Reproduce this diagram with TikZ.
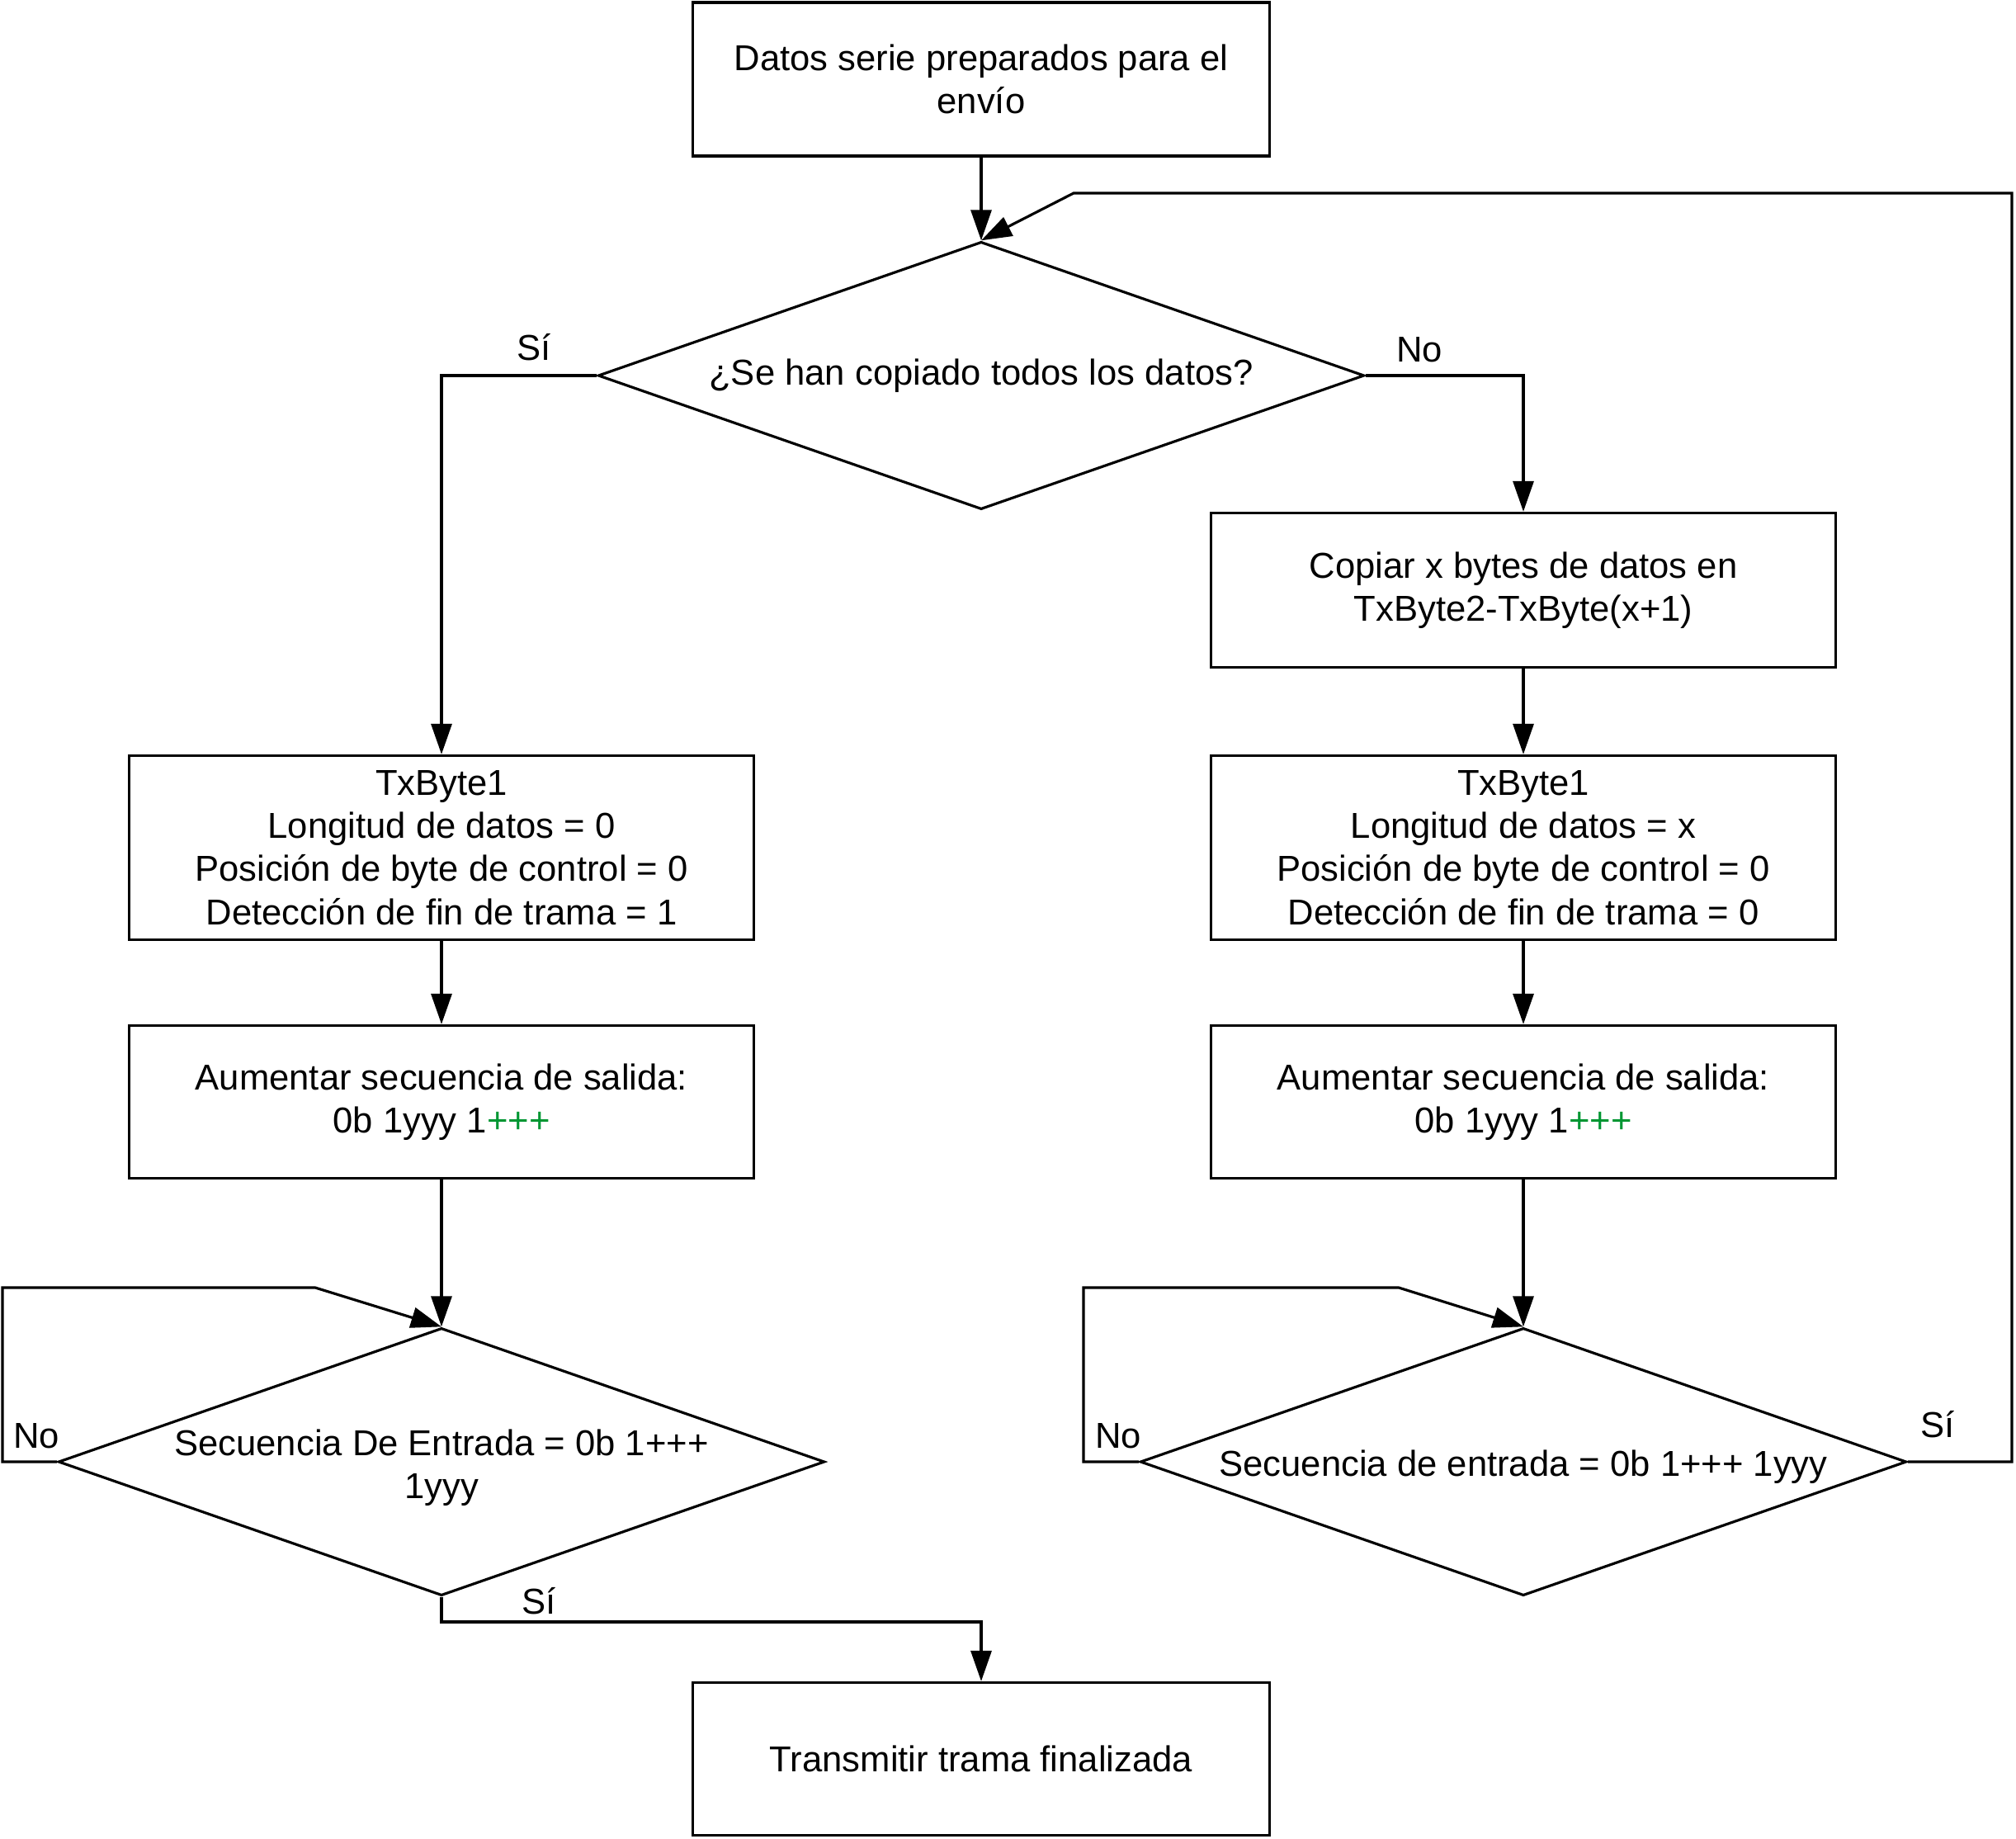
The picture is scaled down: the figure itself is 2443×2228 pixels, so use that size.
\documentclass[tikz,border=0pt]{standalone}
\usepackage{fontspec}
\setmainfont{Liberation Sans}
\usetikzlibrary{shapes.geometric,arrows.meta}
\definecolor{plusgreen}{RGB}{0,150,50}
\begin{document}
\begin{tikzpicture}[x=0.01cm,y=-0.01cm,line width=0.9pt,
  txt/.style={font=\fontsize{12.4}{14.9}\selectfont,align=center,inner sep=0pt},
  box/.style={txt,draw,minimum width=7.57cm},
  dia/.style={draw,diamond,inner sep=0pt,minimum width=9.28cm,minimum height=3.24cm},
  arr/.style={-{Triangle[length=3.7mm,width=2.5mm]}},
  lbl/.style={txt}]
\useasboundingbox (0,0) rectangle (2443,2228);

% nodes
\node[box,minimum width=6.98cm,minimum height=1.86cm] (start) at (1189,96) {Datos serie preparados para el\\envío};
\node[dia] (d1) at (1189,455) {};
\node[txt] (d1t) at (1189,455) {¿Se han copiado todos los datos?};
\node[box,minimum height=1.87cm] (r1) at (1846,715) {Copiar x bytes de datos en\\TxByte2-TxByte(x+1)};
\node[box,minimum height=2.23cm] (l2) at (535,1027) {TxByte1\\Longitud de datos = 0\\Posición de byte de control = 0\\Detección de fin de trama = 1};
\node[box,minimum height=2.23cm] (r2) at (1846,1027) {TxByte1\\Longitud de datos = x\\Posición de byte de control = 0\\Detección de fin de trama = 0};
\node[box,minimum height=1.85cm] (l3) at (535,1335) {Aumentar secuencia de salida:\\0b 1yyy 1\textcolor{plusgreen}{+++}};
\node[box,minimum height=1.85cm] (r3) at (1846,1335) {Aumentar secuencia de salida:\\0b 1yyy 1\textcolor{plusgreen}{+++}};
\node[dia] (ld) at (535,1771) {};
\node[txt] (ldt) at (535,1778) {Secuencia De Entrada = 0b 1+++\\1yyy};
\node[dia] (rd) at (1846,1771) {};
\node[txt] (rdt) at (1846,1777) {Secuencia de entrada = 0b 1+++ 1yyy};
\node[box,minimum width=6.98cm,minimum height=1.85cm] (fin) at (1189,2131) {Transmitir trama finalizada};

% helper coordinates
\coordinate (lA) at (3,1560);
\coordinate (lB) at (382,1560);
\coordinate (rA) at (1313,1560);
\coordinate (rB) at (1695,1560);
\coordinate (rC) at (2438,234);
\coordinate (rD) at (1301,234);
\coordinate (bS) at (535,1965);

% connectors
\draw[arr] (start.south) -- (d1.north);
\draw[arr] (d1.west) -| (l2.north);
\draw[arr] (d1.east) -| (r1.north);
\draw[arr] (r1.south) -- (r2.north);
\draw[arr] (l2.south) -- (l3.north);
\draw[arr] (r2.south) -- (r3.north);
\draw[arr] (l3.south) -- (ld.north);
\draw[arr] (r3.south) -- (rd.north);
\draw[arr] (ld.west) -| (lA) -- (lB) -- (ld.north);
\draw[arr] (rd.west) -| (rA) -- (rB) -- (rd.north);
\draw[arr] (rd.east) -| (rC) -- (rD) -- (d1.north);
\draw[arr] (ld.south) -- (bS) -| (fin.north);

% labels
\node[lbl] (lsi1) at (647,421) {Sí};
\node[lbl] (lno1) at (1720,424) {No};
\node[lbl] (lno2) at (44,1740) {No};
\node[lbl] (lno3) at (1355,1740) {No};
\node[lbl] (lsi2) at (2348,1726) {Sí};
\node[lbl] (lsi3) at (653,1940) {Sí};
\end{tikzpicture}
\end{document}
